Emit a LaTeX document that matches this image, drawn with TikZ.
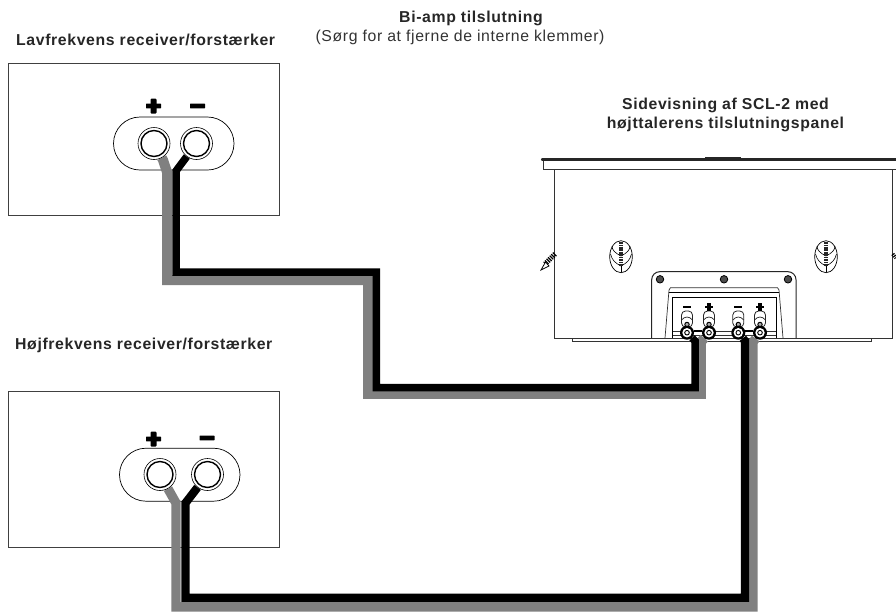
\documentclass[tikz,border=0pt]{standalone}
\usepackage{fontspec}
\setmainfont{Liberation Sans}[LetterSpace=4]
\pgfdeclarelayer{bg}
\pgfsetlayers{bg,main}
\tikzset{
  title/.style={font=\fontsize{15.8}{19}\selectfont\bfseries,text=black!85,inner sep=0pt,align=center},
  note/.style={font=\fontsize{15.8}{19}\selectfont,text=black!80,inner sep=0pt,align=center},
  ampbox/.style={draw=black!75,line width=0.8pt,minimum width=270.5pt,inner sep=0pt},
  socketplate/.style={draw=black,line width=0.7pt,rounded corners=26.5pt,minimum width=120.5pt,minimum height=53pt,inner sep=0pt},
  socketrim/.style={circle,draw=black,line width=0.6pt,minimum size=32pt,inner sep=0pt,fill=white},
  socket/.style={circle,draw=black,fill=white,line width=1.4pt,minimum size=26pt,inner sep=0pt},
  signbar/.style={fill=black,minimum width=15pt,minimum height=4.6pt,inner sep=0pt,rounded corners=0.5pt},
  signstem/.style={fill=black,minimum width=6pt,minimum height=15pt,inner sep=0pt,rounded corners=1pt},
  postbase/.style={circle,fill=black,minimum size=14pt,inner sep=0pt},
  postring/.style={circle,fill=white,minimum size=9.4pt,inner sep=0pt},
  posteye/.style={circle,draw=black,fill=white,line width=0.9pt,minimum size=4.6pt,inner sep=0pt},
  tinybar/.style={fill=black,minimum width=8pt,minimum height=2.4pt,inner sep=0pt},
  tinystem/.style={fill=black,minimum width=3.2pt,minimum height=8pt,inner sep=0pt},
  mount/.style={circle,draw=black,fill=black!70,line width=0.8pt,minimum size=7.5pt,inner sep=0pt},
  cab/.style={draw=black!80,line width=0.7pt},
  blackwire/.style={draw=black,line join=miter},
  greywire/.style={draw=black!50,line join=miter}
}
\begin{document}
\begin{tikzpicture}[x=1pt,y=-1pt]
        \useasboundingbox (0,0) rectangle (896,611);
        % captions
        \node (t0) [title] at (471,18.5) {Bi-amp tilslutning};
        \node (t1) [note] at (460,37) {(Sørg for at fjerne de interne klemmer)};
        \node (t2) [title,anchor=west] at (16,40) {Lavfrekvens receiver/forstærker};
        \node (t3) [title,anchor=west] at (15,345) {Højfrekvens receiver/forstærker};
        \node (t4) [title] at (725.5,114.5) {Sidevisning af SCL-2 med\\højttalerens tilslutningspanel};
        % amplifier sockets
        \node (s0) [socketrim] at (154,143.5) {};
        \node (s1) [socketrim] at (196.5,143.5) {};
        \node (s2) [socketrim] at (160,474.5) {};
        \node (s3) [socketrim] at (207.5,474.5) {};
        \node (s0i) [socket] at (s0) {};
        \node (s1i) [socket] at (s1) {};
        \node (s2i) [socket] at (s2) {};
        \node (s3i) [socket] at (s3) {};
        \node (m0) [signbar] at (153.5,106) {};
        \node (m0s) [signstem] at (153.5,106) {};
        \node (m1) [signbar] at (197.5,106) {};
        \node (m2) [signbar] at (153.5,439) {};
        \node (m2s) [signstem] at (153.5,439) {};
        \node (m3) [signbar] at (207,438) {};
        % wire bends
        \coordinate (e0) at (163,160);
        \coordinate (a0) at (167,172);
        \coordinate (a1) at (167,280);
        \coordinate (a2) at (368,280);
        \coordinate (a3) at (368,393.8);
        \coordinate (a4) at (700.8,393.8);
        \coordinate (a5) at (700.8,342);
        \coordinate (b0) at (176,171);
        \coordinate (b1) at (176,272);
        \coordinate (b2) at (376.3,272);
        \coordinate (b3) at (376.3,387.5);
        \coordinate (b4) at (695,387.5);
        \coordinate (b5) at (695,341);
        \coordinate (c0) at (176,503);
        \coordinate (c1) at (176,606.8);
        \coordinate (c2) at (753,606.8);
        \coordinate (c3) at (753,342);
        \coordinate (d0) at (185.5,503);
        \coordinate (d1) at (185.5,597.8);
        \coordinate (d2) at (745,597.8);
        \coordinate (d3) at (745,341);
        \begin{pgfonlayer}{bg}
                \node (box0) [ampbox,minimum height=152pt] at (143.75,139) {};
                \node (box1) [ampbox,minimum height=155.5pt] at (143.75,469.4) {};
                \node (plate0) [socketplate] at (173.75,143.5) {};
                \node (plate1) [socketplate] at (179.75,474.7) {};
                % cabinet
                \draw [line width=2.4pt,black!85,line cap=round] (542,159.3) -- (896,159.3);
                \draw [line width=1.2pt,black!85] (705,157.6) -- (741,157.6);
                \draw [cab] (543,161) -- (543,169.5) -- (896,169.5);
                \draw [cab] (554.5,169.5) -- (554.5,338) -- (892.7,338) -- (892.7,169.5);
                \draw [cab] (572,338) -- (572,341) -- (871.7,341) -- (871.7,338);
                \foreach \kx in {621,826} {
                        \draw [black,line width=0.7pt] (\kx,256.7) ellipse (11.3pt and 16pt);
                        \draw [black,line width=0.6pt] (\kx,256) .. controls (\kx-6,253) and (\kx-9,250) .. (\kx-9,246);
                        \draw [black,line width=0.6pt] (\kx,256) .. controls (\kx+6,253) and (\kx+9,250) .. (\kx+9,246);
                        \draw [black,line width=0.6pt] (\kx,266) .. controls (\kx-6,263) and (\kx-9,260) .. (\kx-10.5,254);
                        \draw [black,line width=0.6pt] (\kx,266) .. controls (\kx+6,263) and (\kx+9,260) .. (\kx+10.5,254);
                        \draw [black!85,line width=4.4pt,dash pattern=on 1.2pt off 0.5pt] (\kx,241.5) -- (\kx,266);
                        \draw [black,line width=1pt] (\kx,266) -- (\kx,272);
                }
                \draw [black,line width=5pt,dash pattern=on 1.2pt off 1pt] (555,254) -- (545,264);
                \draw [black,line width=0.8pt,fill=white] (545.5,262) -- (541,270) -- (549,266) -- cycle;
                \draw [black,line width=3.5pt,dash pattern=on 1.2pt off 1pt] (892.7,254) -- (896,258);
                % terminal panel
                \draw [black!85,line width=1pt,rounded corners=8pt] (651.7,338) -- (651.7,271.7) -- (796,271.7) -- (796,338);
                \node (h0) [mount] at (660,279.3) {};
                \node (h1) [mount] at (724,279.3) {};
                \node (h2) [mount] at (788,279.3) {};
                \draw [cab] (665,338) -- (669,290) -- (670.5,287.7) -- (777.5,287.7) -- (779,290) -- (783,338);
                \draw [black,line width=1pt] (669,292) -- (779,292);
                \draw [black,line width=1pt] (672.7,338) -- (672.7,297) -- (776,297) -- (776,338);
                \draw [cab] (672.7,331) -- (776,331);
                \draw [cab] (672.7,335) -- (776,335);
                \foreach \px in {687,709,738.3,760} {
                        \draw [black!85,line width=0.8pt,fill=white,rounded corners=4pt] (\px-5.5,327) -- (\px-5.5,311) -- (\px+5.5,311) -- (\px+5.5,327) -- cycle;
                        \draw [black!85,line width=0.7pt] (\px-5.5,320) .. controls (\px-2,316) and (\px+2,316) .. (\px+5.5,320);
                        \draw [black,line width=1pt,fill=black!30] (\px,324.5) circle (2.2pt);
                }
                \draw [black,line width=1.6pt] (694,331) -- (702,331);
                \draw [black,line width=1.6pt] (745,331) -- (753,331);
                \node (p0) [postbase] at (687,332.7) {};
                \node (p1) [postbase] at (709,332.7) {};
                \node (p2) [postbase] at (738.3,332.7) {};
                \node (p3) [postbase] at (760,332.7) {};
                \node (n0) [tinybar] at (687,306.7) {};
                \node (n1) [tinybar] at (709,306.7) {};
                \node (n1s) [tinystem] at (709,306.7) {};
                \node (n2) [tinybar] at (738.3,306.7) {};
                \node (n3) [tinybar] at (760,306.7) {};
                \node (n3s) [tinystem] at (760,306.7) {};
                % wires
                \draw [greywire,line width=10pt] (s0) -- (e0) -- (a0) -- (a1) -- (a2) -- (a3) -- (a4) -- (a5) -- (p1);
                \draw [blackwire,line width=7.5pt] (s1) -- (b0) -- (b1) -- (b2) -- (b3) -- (b4) -- (b5) -- (p0);
                \draw [greywire,line width=9.4pt] (s2) -- (c0) -- (c1) -- (c2) -- (c3) -- (p3);
                \draw [blackwire,line width=8.3pt] (s3) -- (d0) -- (d1) -- (d2) -- (d3) -- (p2);
        \end{pgfonlayer}
        \node (q0) [postring] at (p0) {};
        \node (q1) [postring] at (p1) {};
        \node (q2) [postring] at (p2) {};
        \node (q3) [postring] at (p3) {};
        \node (r0) [posteye] at (p0) {};
        \node (r1) [posteye] at (p1) {};
        \node (r2) [posteye] at (p2) {};
        \node (r3) [posteye] at (p3) {};
\end{tikzpicture}
\end{document}
